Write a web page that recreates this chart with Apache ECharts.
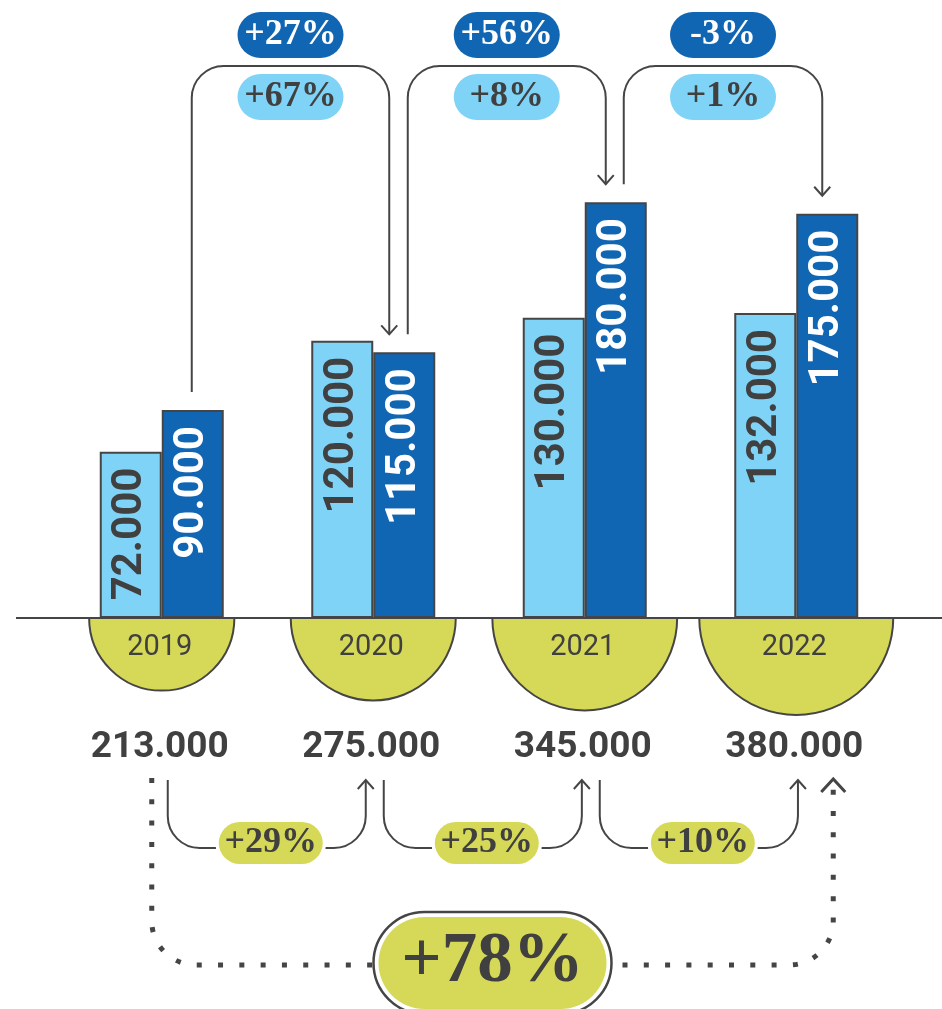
<!DOCTYPE html>
<html>
<head>
<meta charset="utf-8">
<script src="https://cdn.jsdelivr.net/npm/echarts@6/dist/echarts.min.js"></script>
<style>
html,body{margin:0;padding:0;background:#fff;}
#chart{width:942px;height:1009px;}
</style>
</head>
<body>
<div id="chart"></div>
<script>
// ---- data ----
const years = ['2019', '2020', '2021', '2022'];
const seriesLight = [72000, 120000, 130000, 132000];
const seriesDark = [90000, 115000, 180000, 175000];
const totals = [213000, 275000, 345000, 380000];
const changeDark = ['+27%', '+56%', '-3%'];
const changeLight = ['+67%', '+8%', '+1%'];
const changeTotal = ['+29%', '+25%', '+10%'];
const overallChange = '+78%';

// ---- style ----
const C_DARK = '#1166B3';
const C_LIGHT = '#7FD3F6';
const C_YEL = '#D6D957';
const C_TEXT = '#404040';
const C_LINE = '#454545';
const SERIF = '"Liberation Serif", "DejaVu Serif", serif';
const SANS = 'Roboto, "Noto Sans", sans-serif';

function fmt(v) { return String(v).replace(/\B(?=(\d{3})+(?!\d))/g, '.'); }

function uPath(xl, y1, xr, y2, yc, R) {
  const d = yc > y1 ? 1 : -1;
  const k = 0.5523 * R;
  return `M${xl} ${y1} L${xl} ${yc - d * R} ` +
    `C${xl} ${yc - d * R + d * k} ${xl + R - k} ${yc} ${xl + R} ${yc} ` +
    `L${xr - R} ${yc} ` +
    `C${xr - R + k} ${yc} ${xr} ${yc - d * R + d * k} ${xr} ${yc - d * R} ` +
    `L${xr} ${y2}`;
}
function pill(cx, cy, w, h, fill, text, color, font) {
  return [
    { type: 'rect', shape: { x: cx - w / 2, y: cy - h / 2, width: w, height: h, r: h / 2 }, style: { fill: fill } },
    { type: 'text', x: cx, y: cy, style: { text: text, fill: color, font: font, align: 'center', verticalAlign: 'middle', textAlign: 'center', textVerticalAlign: 'middle' } }
  ];
}
const lineStyle = { stroke: C_LINE, lineWidth: 2, fill: 'none' };

const chart = echarts.init(document.getElementById('chart'), null, { renderer: 'canvas' });

const option = {
  animation: false,
  backgroundColor: '#fff',
  grid: { left: 56, right: 40, top: 156, bottom: 391 },
  xAxis: { type: 'category', data: years, show: false },
  yAxis: { type: 'value', min: 0, max: 200000, show: false },
  series: [
    {
      type: 'bar', data: seriesLight, barWidth: 62, barGap: '0%', z: 3,
      itemStyle: { color: C_LIGHT, borderColor: C_LINE, borderWidth: 2 },
      label: {
        show: true, position: 'insideTop', rotate: 90, align: 'right', verticalAlign: 'middle', distance: 16,
        formatter: p => fmt(p.value), fontSize: 42, fontWeight: 'bold', fontFamily: SANS, color: C_TEXT
      }
    },
    {
      type: 'bar', data: seriesDark, barWidth: 62, barGap: '0%', z: 3,
      itemStyle: { color: C_DARK, borderColor: C_LINE, borderWidth: 2 },
      label: {
        show: true, position: 'insideTop', rotate: 90, align: 'right', verticalAlign: 'middle', distance: 16,
        formatter: p => fmt(p.value), fontSize: 42, fontWeight: 'bold', fontFamily: SANS, color: '#fff'
      }
    },
    // semicircles, years, totals
    {
      type: 'custom', z: 2,
      data: totals.map((t, i) => [i, t]),
      encode: { x: 0, y: 1 },
      renderItem: function (params, api) {
        const i = api.value(0), t = api.value(1);
        const c = api.coord([i, 0]);
        const r = 97 * Math.sqrt(t / totals[totals.length - 1]);
        return {
          type: 'group', children: [
            { type: 'sector', shape: { cx: c[0], cy: c[1], r: r, r0: 0, startAngle: 0, endAngle: Math.PI, clockwise: true },
              style: { fill: C_YEL, stroke: C_LINE, lineWidth: 2 } },
            { type: 'text', x: c[0] - 2, y: c[1] + 30, style: { text: years[i], fill: C_TEXT, font: '29px ' + SANS, align: 'center', verticalAlign: 'middle', textAlign: 'center', textVerticalAlign: 'middle' } },
            { type: 'text', x: c[0] - 2, y: c[1] + 130, style: { text: fmt(t), fill: C_TEXT, font: 'bold 37px ' + SANS, align: 'center', verticalAlign: 'middle', textAlign: 'center', textVerticalAlign: 'middle' } }
          ]
        };
      }
    },
    // baseline
    {
      type: 'custom', z: 4,
      data: [[0, 0]],
      encode: { x: 0, y: 1 },
      renderItem: function (params, api) {
        const c = api.coord([0, 0]);
        return { type: 'line', shape: { x1: 16, y1: c[1], x2: api.getWidth(), y2: c[1] }, style: { stroke: C_LINE, lineWidth: 2 } };
      }
    },
    // top brackets (dark series change) with pills
    {
      type: 'custom', z: 5,
      data: changeDark.map((t, i) => [i, seriesDark[i], seriesDark[i + 1]]),
      encode: { x: 0, y: 1 },
      renderItem: function (params, api) {
        const i = api.value(0);
        const a = api.coord([i, api.value(1)]);
        const b = api.coord([i + 1, api.value(2)]);
        const xl = a[0] + 30 + 4.5 * i;
        const xr = b[0] + 16 + 5 * i;
        const y1 = a[1] - 18, y2 = b[1] - 18;
        const yTop = 66;
        const cx = (xl + xr) / 2;
        return {
          type: 'group', children: [
            { type: 'path', shape: { pathData: uPath(xl, y1, xr, y2, yTop, 32) }, style: lineStyle },
            { type: 'path', shape: { pathData: `M${xr - 8} ${y2 - 9} L${xr} ${y2} L${xr + 8} ${y2 - 9}` }, style: lineStyle },
            ...pill(cx, 35, 106, 46, C_DARK, changeDark[i], '#fff', 'bold 36px ' + SERIF),
            ...pill(cx, 97, 106, 46, C_LIGHT, changeLight[i], C_TEXT, 'bold 36px ' + SERIF)
          ]
        };
      }
    },
    // bottom brackets (total change)
    {
      type: 'custom', z: 5,
      data: changeTotal.map((t, i) => [i, 0]),
      encode: { x: 0, y: 1 },
      renderItem: function (params, api) {
        const i = api.value(0);
        const a = api.coord([i, 0]);
        const b = api.coord([i + 1, 0]);
        const xl = a[0] + 6 + 4.5 * i;
        const xr = b[0] - 7.5 + 4.6 * i;
        const y1 = a[1] + 162, y2 = a[1] + 162;
        const yc = a[1] + 230;
        const cx = (xl + xr) / 2 + 4;
        return {
          type: 'group', children: [
            { type: 'path', shape: { pathData: uPath(xl, y1, xr, y2, yc, 32) }, style: lineStyle },
            { type: 'path', shape: { pathData: `M${xr - 8} ${y2 + 9} L${xr} ${y2} L${xr + 8} ${y2 + 9}` }, style: lineStyle },
            { type: 'rect', shape: { x: cx - 55, y: yc - 26, width: 110, height: 48, r: 24 }, style: { fill: '#fff' } },
            ...pill(cx, yc - 5, 104, 42, C_YEL, changeTotal[i], C_TEXT, 'bold 36px ' + SERIF)
          ]
        };
      }
    },
    // overall change (dotted)
    {
      type: 'custom', z: 5,
      data: [[0, 0]],
      encode: { x: 0, y: 1 },
      renderItem: function (params, api) {
        const a = api.coord([0, 0]);
        const b = api.coord([years.length - 1, 0]);
        const xL = a[0] - 10, xR = b[0] + 37;
        const yH = a[1] + 347;
        const cx = (xL + xR) / 2, cy = a[1] + 345;
        const w = 228, h = 92;
        const R = 44;
        const k = 0.5523 * R;
        const dot = { stroke: C_LINE, lineWidth: 5, fill: 'none', lineDash: [5, 16.3], lineCap: 'butt' };
        const left = `M${xL} ${a[1] + 160} L${xL} ${yH - R} C${xL} ${yH - R + k} ${xL + R - k} ${yH} ${xL + R} ${yH} L${cx - w / 2 - 6} ${yH}`;
        const right = `M${cx + w / 2 + 16} ${yH} L${xR - R} ${yH} C${xR - R + k} ${yH} ${xR} ${yH - R + k} ${xR} ${yH - R} L${xR} ${a[1] + 168}`;
        return {
          type: 'group', children: [
            { type: 'path', shape: { pathData: left }, style: dot },
            { type: 'path', shape: { pathData: right }, style: dot },
            { type: 'path', shape: { pathData: `M${xR - 12} ${a[1] + 174} L${xR} ${a[1] + 161} L${xR + 12} ${a[1] + 174}` }, style: { stroke: C_LINE, lineWidth: 3, fill: 'none' } },
            { type: 'rect', shape: { x: cx - w / 2 - 5, y: cy - h / 2 - 5, width: w + 10, height: h + 10, r: (h + 10) / 2 }, style: { fill: '#fff', stroke: C_LINE, lineWidth: 2.5 } },
            ...pill(cx, cy, w, h, C_YEL, overallChange, C_TEXT, 'bold 71px ' + SERIF)
          ]
        };
      }
    }
  ]
};
chart.setOption(option);
</script>
</body>
</html>
